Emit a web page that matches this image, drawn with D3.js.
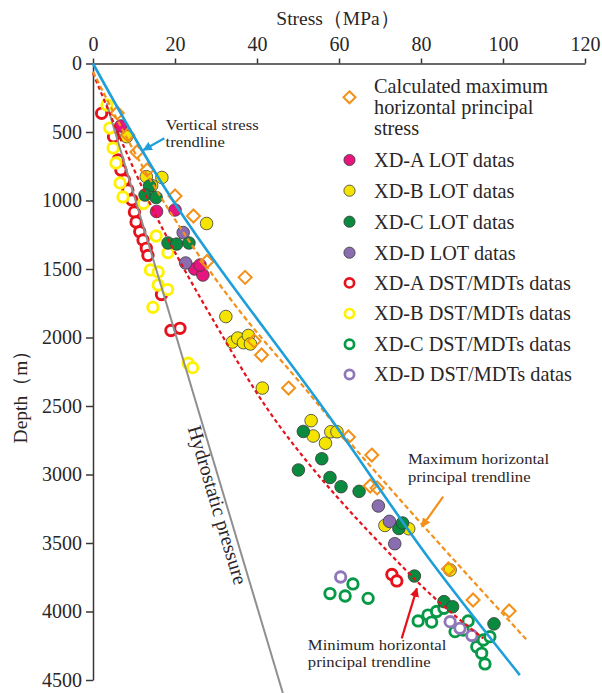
<!DOCTYPE html>
<html>
<head>
<meta charset="utf-8">
<script src="https://cdn.jsdelivr.net/npm/d3@7"></script>
<style>
  body { margin: 0; background: #fff; }
  svg { display: block; }
  text { font-family: "Liberation Serif", "Times New Roman", serif; fill: #2a2627; }
  .axis path, .axis line { stroke: #3a3637; stroke-width: 1.5; }
  .axis text { font-size: 20px; font-family: "Liberation Serif", serif; fill: #2a2627; }
</style>
</head>
<body>
<svg id="chart" width="602" height="693"></svg>
<script>
// ── Data: [stress MPa, depth m] ──
const stressTicks = [0, 20, 40, 60, 80, 100, 120];
const depthTicks = [0, 500, 1000, 1500, 2000, 2500, 3000, 3500, 4000, 4500];

const calcSHmax = [[5.9, 361], [8.5, 522], [10.7, 646], [13.2, 777], [20.0, 967], [24.5, 1113],
  [27.8, 1445], [37.1, 1561], [39.3, 2026], [41.1, 2128], [47.7, 2369], [62.3, 2726],
  [68.0, 2858], [67.6, 3084], [69.3, 3098], [86.7, 3690], [92.7, 3916], [101.5, 3996]];

const xdaLot = [[6.8, 456], [15.5, 1080], [20.0, 1069], [24.8, 1500], [26.8, 1544], [26.1, 1471]];
const xdbLot = [[8.2, 534], [13.0, 826], [16.8, 832], [14.3, 891], [27.7, 1168], [32.4, 1847],
  [34.0, 2033], [35.3, 2004], [36.7, 2038], [37.9, 1985], [38.4, 2047], [41.3, 2369],
  [53.2, 2607], [53.7, 2719], [56.7, 2772], [58.0, 2688], [59.5, 2688], [71.2, 3372],
  [77.0, 3396], [87.1, 3697]];
const xdcLot = [[13.8, 894], [12.7, 960], [15.4, 978], [18.3, 1310], [20.4, 1318], [23.4, 1310],
  [51.3, 2686], [55.8, 2885], [50.1, 2967], [57.8, 3022], [60.5, 3089], [64.9, 3123],
  [74.6, 3394], [75.5, 3354], [78.4, 3741], [85.6, 3928], [87.7, 3965], [97.8, 4090]];
const xddLot = [[22.0, 1234], [22.6, 1456], [69.6, 3230], [72.3, 3342], [73.6, 3505]];

const xdaDst = [[2.1, 364], [5.0, 534], [6.1, 704], [6.8, 777], [7.7, 850], [8.5, 923], [9.5, 996],
  [10.1, 1084], [10.5, 1157], [11.4, 1228], [12.2, 1288], [13.0, 1349], [13.4, 1401],
  [16.7, 1686], [19.0, 1949], [21.2, 1933], [72.9, 3730], [74.1, 3777]];
const xdbDst = [[3.4, 303], [4.1, 471], [4.9, 617], [5.6, 726], [6.6, 872], [7.3, 974],
  [12.3, 1022], [15.4, 1259], [18.3, 1381], [14.0, 1507], [15.9, 1522], [15.9, 1617],
  [18.2, 1650], [14.6, 1780], [23.2, 2188], [24.3, 2220]];
const xdcDst = [[57.8, 3869], [61.5, 3887], [63.4, 3799], [67.1, 3904], [79.3, 4069], [81.7, 4026],
  [83.8, 4000], [82.6, 4077], [85.6, 3977], [88.3, 4147], [90.3, 4135], [91.5, 4069],
  [93.6, 4257], [95.2, 4208], [96.8, 4184], [94.8, 4305], [95.6, 4383]];
const xddDst = [[60.4, 3748], [87.1, 4074], [89.5, 4123], [92.4, 4175]];

const verticalTrend = [[0, 0], [16.3, 850], [59.4, 2651], [82.2, 3624], [104.1, 4464]];
const maxTrend = [[0, 60], [15.5, 924], [37.5, 1872], [51, 2347], [60.5, 2690], [82.2, 3429], [105.8, 4208]];
const minTrend = [[0, 70], [16.1, 1155], [29.3, 1872], [45.6, 2651], [69.2, 3478], [87.1, 4001], [95.2, 4196]];
const hydrostatic = [[3.3, 290], [46.3, 4595]];

const legendLabels = [
  ['Calculated maximum', 'horizontal principal', 'stress'],
  ['XD-A LOT datas'], ['XD-B LOT datas'], ['XD-C LOT datas'], ['XD-D LOT datas'],
  ['XD-A DST/MDTs datas'], ['XD-B DST/MDTs datas'], ['XD-C DST/MDTs datas'], ['XD-D DST/MDTs datas'],
];

// ── Styles ──
const C = {
  orange: '#f39019', magenta: '#e6157d', yellow: '#f5e400', green: '#0a8a3f', purple: '#8a6cb0',
  red: '#e6121b', ringYellow: '#fff200', ringGreen: '#079a46', ringPurple: '#8f78ba',
  blue: '#1e9fd9', gray: '#8f8f8f',
};

const series = [
  { data: calcSHmax, kind: 'diamond', color: C.orange },
  { data: xdaLot, kind: 'dot', color: C.magenta },
  { data: xdbLot, kind: 'dot', color: C.yellow },
  { data: xdcLot, kind: 'dot', color: C.green },
  { data: xddLot, kind: 'dot', color: C.purple },
  { data: xdaDst, kind: 'ring', color: C.red },
  { data: xdbDst, kind: 'ring', color: C.ringYellow },
  { data: xdcDst, kind: 'ring', color: C.ringGreen },
  { data: xddDst, kind: 'ring', color: C.ringPurple },
];

const svg = d3.select('#chart');
const x = d3.scaleLinear().domain([0, 120]).range([93, 585]);
const y = d3.scaleLinear().domain([0, 4500]).range([63.5, 680]);

// axes
svg.append('g').attr('class', 'axis').attr('transform', `translate(0,${y(0)})`)
  .call(d3.axisTop(x).tickValues(stressTicks).tickSize(5).tickSizeOuter(0).tickPadding(8));
svg.append('g').attr('class', 'axis').attr('transform', `translate(${x(0)},0)`)
  .call(d3.axisLeft(y).tickValues(depthTicks).tickFormat(d3.format('d'))
    .tickSize(7).tickSizeOuter(0).tickPadding(4));

svg.append('text').attr('x', 338).attr('y', 25).attr('text-anchor', 'middle')
  .style('font-size', '19.5px').text('Stress（MPa）');
svg.append('text').attr('transform', 'translate(27,392) rotate(-90)').attr('text-anchor', 'middle')
  .style('font-size', '19.5px').text('Depth（m）');

// marker helpers
function drawMarker(g, kind, color, cx, cy, big) {
  if (kind === 'diamond') {
    const h = big ? 6.5 : 6;
    g.append('path')
      .attr('d', `M${cx},${cy - h}L${cx + h},${cy}L${cx},${cy + h}L${cx - h},${cy}Z`)
      .attr('fill', 'none').attr('stroke', color).attr('stroke-width', 2);
  } else if (kind === 'dot') {
    g.append('circle').attr('cx', cx).attr('cy', cy).attr('r', big ? 6.3 : 5.6)
      .attr('fill', color).attr('stroke', '#3b3b3b').attr('stroke-width', 0.8);
  } else {
    g.append('circle').attr('cx', cx).attr('cy', cy).attr('r', big ? 5.2 : 4.6)
      .attr('fill', '#fff').attr('stroke', color).attr('stroke-width', big ? 2.9 : 2.7);
  }
}

// points (rings first, then filled dots, then diamonds)
const order = [5, 6, 7, 8, 1, 2, 3, 4, 0];
const pts = svg.append('g');
order.forEach((si) => {
  const s = series[si];
  s.data.forEach((d) => drawMarker(pts, s.kind, s.color, x(d[0]), y(d[1]), true));
});

// trend lines
const line = d3.line().x((d) => x(d[0])).y((d) => y(d[1])).curve(d3.curveMonotoneY);
svg.append('path').attr('d', line(hydrostatic)).attr('fill', 'none')
  .attr('stroke', C.gray).attr('stroke-width', 2);
svg.append('path').attr('d', line(minTrend)).attr('fill', 'none')
  .attr('stroke', C.red).attr('stroke-width', 2.2).attr('stroke-dasharray', '4,3');
svg.append('path').attr('d', line(maxTrend)).attr('fill', 'none')
  .attr('stroke', C.orange).attr('stroke-width', 2.2).attr('stroke-dasharray', '5,3');
svg.append('path').attr('d', line(verticalTrend)).attr('fill', 'none')
  .attr('stroke', C.blue).attr('stroke-width', 2.6);

// annotations
const defs = svg.append('defs');
function arrowHead(id, color) {
  defs.append('marker').attr('id', id).attr('viewBox', '0 0 10 10').attr('refX', 9).attr('refY', 5)
    .attr('markerWidth', 4.2).attr('markerHeight', 4.2).attr('orient', 'auto')
    .append('path').attr('d', 'M0,0L10,5L0,10Z').attr('fill', color);
}
arrowHead('ah-blue', C.blue);
arrowHead('ah-orange', C.orange);
arrowHead('ah-red', C.red);

function arrow(from, to, color, id) {
  svg.append('line').attr('x1', x(from[0])).attr('y1', y(from[1]))
    .attr('x2', x(to[0])).attr('y2', y(to[1]))
    .attr('stroke', color).attr('stroke-width', 2.2).attr('marker-end', `url(#${id})`);
}
arrow([17.4, 546], [12.3, 631], C.blue, 'ah-blue');
arrow([85.4, 3162], [80.2, 3381], C.orange, 'ah-orange');
arrow([75.3, 4196], [79.0, 3831], C.red, 'ah-red');

// two-line notes; glyphs slightly widened so the lines keep the reference width
function note(lines, sx, sy, size, lh) {
  lines.forEach((t, i) => {
    svg.append('text')
      .attr('transform', `translate(${x(sx)},${y(sy) + i * lh}) scale(1.07,1)`)
      .style('font-size', size + 'px').text(t);
  });
}
note(['Vertical  stress', ' trendline'], 17.7, 482, 15.6, 17.4);
note(['Maximum horizontal', 'principal trendline'], 76.8, 2925, 15.6, 17.4);
note(['Minimum horizontal', 'principal trendline'], 52.4, 4280, 15.6, 17.4);

// hydrostatic label along the grey line
const hx1 = x(hydrostatic[0][0]), hy1 = y(hydrostatic[0][1]);
const hx2 = x(hydrostatic[1][0]), hy2 = y(hydrostatic[1][1]);
const ang = Math.atan2(hy2 - hy1, hx2 - hx1) * 180 / Math.PI;
svg.append('text').attr('transform', `translate(211,507) rotate(${ang})`)
  .attr('text-anchor', 'middle').style('font-size', '20px').text('Hydrostatic pressure');

// legend
const lg = svg.append('g');
const rowY = [97.3, 160, 190.7, 221.7, 252.7, 282.9, 313.6, 344.3, 374.5];
legendLabels.forEach((lab, i) => {
  const s = series[i];
  drawMarker(lg, s.kind, s.color, 349.5, rowY[i], false);
  const ty0 = i === 0 ? 93 : rowY[i] + 6.8;
  lab.forEach((t, j) => {
    lg.append('text').attr('x', 374).attr('y', ty0 + j * 21.2)
      .style('font-size', '20.3px').text(t);
  });
});
</script>
</body>
</html>
